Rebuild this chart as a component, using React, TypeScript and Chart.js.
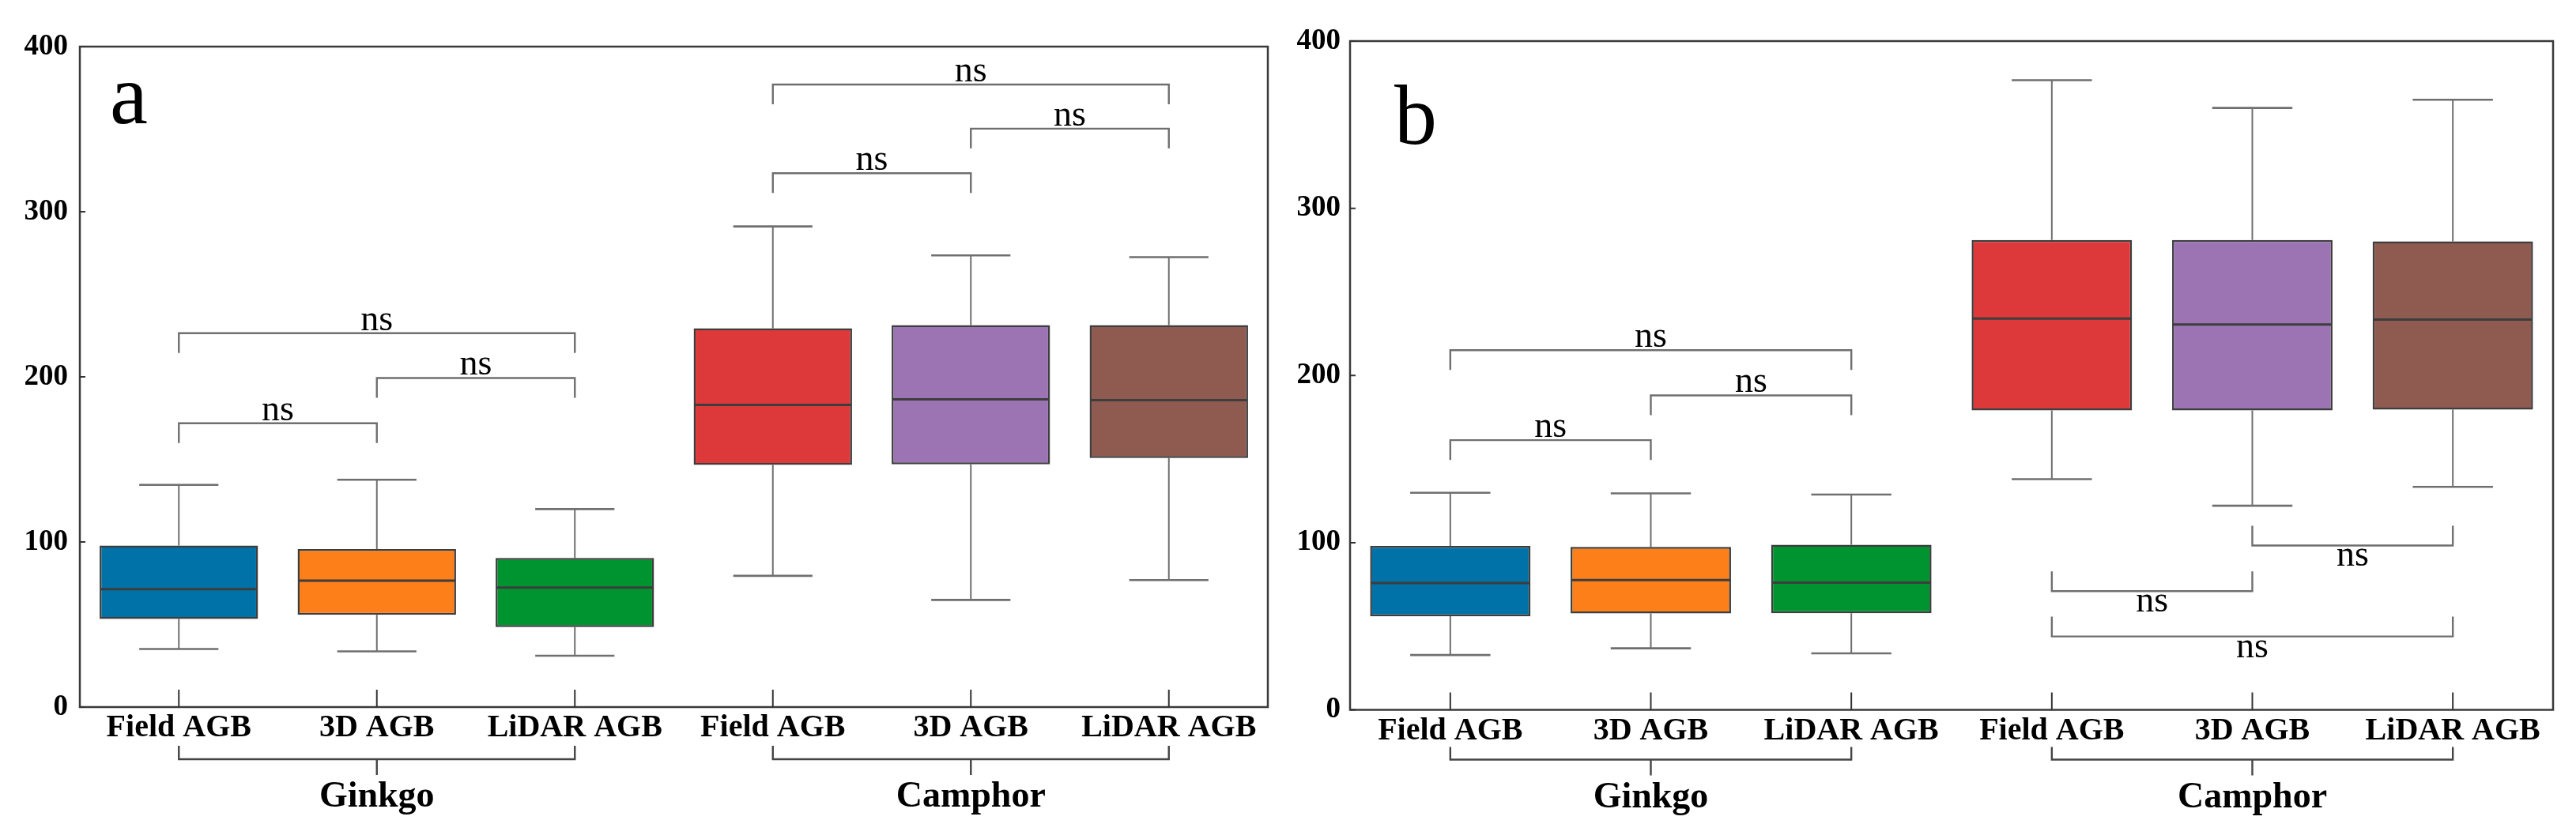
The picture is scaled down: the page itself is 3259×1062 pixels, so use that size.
import React, { useEffect, useRef } from "react";
import { Chart, registerables } from "chart.js";

Chart.register(...registerables);

// ---------- data ----------
const categories = ["Field AGB", "3D AGB", "LiDAR AGB", "Field AGB", "3D AGB", "LiDAR AGB"];
const groups = ["Ginkgo", "Camphor"];
const yTicks = [0, 100, 200, 300, 400];
const boxColors = ["#0072A7", "#FD7F19", "#009430", "#DE393A", "#9C74B4", "#8F5B51"];

// panel a
const aLow = [35.2, 33.7, 31.1, 79.5, 64.9, 76.9];
const aQ1 = [53.4, 55.9, 48.4, 146.7, 147.0, 150.8];
const aMedian = [71.4, 76.5, 72.4, 183.0, 186.4, 185.9];
const aQ3 = [97.8, 95.7, 90.3, 229.4, 231.3, 231.3];
const aHigh = [134.6, 137.7, 119.9, 291.1, 273.6, 272.5];
const aBracketFrom = [0, 1, 0, 3, 4, 3];
const aBracketTo = [1, 2, 2, 4, 5, 5];
const aBracketY = [171.9, 199.3, 226.4, 323.3, 350.3, 377.0];
const aBracketDir = ["up", "up", "up", "up", "up", "up"];
const aBracketText = ["ns", "ns", "ns", "ns", "ns", "ns"];

// panel b
const bLow = [32.8, 36.8, 33.8, 138.0, 122.1, 133.4];
const bQ1 = [56.0, 57.6, 57.8, 179.1, 179.1, 179.6];
const bMedian = [75.9, 77.6, 76.1, 234.0, 230.5, 233.4];
const bQ3 = [98.1, 97.5, 98.8, 281.0, 281.0, 280.2];
const bHigh = [129.8, 129.5, 128.8, 376.6, 360.0, 364.9];
const bBracketFrom = [0, 1, 0, 4, 3, 3];
const bBracketTo = [1, 2, 2, 5, 4, 5];
const bBracketY = [161.3, 188.1, 215.1, 98.3, 71.0, 43.9];
const bBracketDir = ["up", "up", "up", "down", "down", "down"];
const bBracketText = ["ns", "ns", "ns", "ns", "ns", "ns"];

const SERIF = "'Liberation Serif', 'Times New Roman', serif";

type Panel = {
  letter: string;
  low: number[];
  q1: number[];
  median: number[];
  q3: number[];
  high: number[];
  bFrom: number[];
  bTo: number[];
  bY: number[];
  bDir: string[];
  bText: string[];
  canvasW: number;
  left: number;
  yAxisW: number;
  xAxisH: number;
  padTop: number;
  padRight: number;
  tickPad: number;
  letterDX: number;
  letterDY: number;
  grp: number[]; // leg top, horizontal, stem end, text baseline offsets from bottom
};

const panels: Panel[] = [
  {
    letter: "a",
    low: aLow, q1: aQ1, median: aMedian, q3: aQ3, high: aHigh,
    bFrom: aBracketFrom, bTo: aBracketTo, bY: aBracketY, bDir: aBracketDir, bText: aBracketText,
    canvasW: 1620, left: 0, yAxisW: 101, xAxisH: 167, padTop: 59, padRight: 16, tickPad: 15,
    letterDX: 38, letterDY: 97,
    grp: [49, 66, 86, 126],
  },
  {
    letter: "b",
    low: bLow, q1: bQ1, median: bMedian, q3: bQ3, high: bHigh,
    bFrom: bBracketFrom, bTo: bBracketTo, bY: bBracketY, bDir: bBracketDir, bText: bBracketText,
    canvasW: 1639, left: 1620, yAxisW: 88, xAxisH: 163.5, padTop: 52, padRight: 29, tickPad: 12,
    letterDX: 56, letterDY: 130,
    grp: [47, 63, 83, 123],
  },
];

function makePlugin(p: Panel) {
  return {
    id: "decor" + p.letter,
    beforeDatasetsDraw(chart: any) {
      const ctx = chart.ctx;
      const y = chart.scales.y;
      const meta = chart.getDatasetMeta(0);
      ctx.save();
      ctx.strokeStyle = "#6f6f6f";
      ctx.lineWidth = 2;
      meta.data.forEach((bar: any, i: number) => {
        const { x: cx, width: w } = bar.getProps(["x", "width"], true);
        const capHalf = w / 4;
        const yHi = y.getPixelForValue(p.high[i]);
        const yLo = y.getPixelForValue(p.low[i]);
        const yQ3 = y.getPixelForValue(p.q3[i]);
        const yQ1 = y.getPixelForValue(p.q1[i]);
        ctx.beginPath();
        ctx.moveTo(cx, yQ3);
        ctx.lineTo(cx, yHi);
        ctx.moveTo(cx, yQ1);
        ctx.lineTo(cx, yLo);
        ctx.stroke();
        ctx.lineWidth = 2.6;
        ctx.beginPath();
        ctx.moveTo(cx - capHalf, yHi);
        ctx.lineTo(cx + capHalf, yHi);
        ctx.moveTo(cx - capHalf, yLo);
        ctx.lineTo(cx + capHalf, yLo);
        ctx.stroke();
        ctx.lineWidth = 2;
      });
      ctx.restore();
    },
    afterDatasetsDraw(chart: any) {
      const ctx = chart.ctx;
      const y = chart.scales.y;
      const meta = chart.getDatasetMeta(0);
      ctx.save();
      ctx.strokeStyle = "#3d3d3d";
      ctx.lineWidth = 3;
      meta.data.forEach((bar: any, i: number) => {
        const { x: cx, width: w } = bar.getProps(["x", "width"], true);
        const ym = y.getPixelForValue(p.median[i]);
        ctx.beginPath();
        ctx.moveTo(cx - w / 2 + 1, ym);
        ctx.lineTo(cx + w / 2 - 1, ym);
        ctx.stroke();
      });
      ctx.restore();
    },
    afterDraw(chart: any) {
      const ctx = chart.ctx;
      const a = chart.chartArea;
      const xs = chart.scales.x;
      const ys = chart.scales.y;
      ctx.save();
      // frame
      ctx.strokeStyle = "#3a3a3a";
      ctx.lineWidth = 2.5;
      ctx.strokeRect(a.left, a.top, a.right - a.left, a.bottom - a.top);
      // x ticks (inward)
      ctx.lineWidth = 2;
      ctx.strokeStyle = "#333";
      ctx.beginPath();
      categories.forEach((_c, i) => {
        const px = xs.getPixelForValue(i);
        ctx.moveTo(px, a.bottom);
        ctx.lineTo(px, a.bottom - 22);
      });
      // y ticks (inward)
      yTicks.forEach((v) => {
        const py = ys.getPixelForValue(v);
        ctx.moveTo(a.left, py);
        ctx.lineTo(a.left + 7, py);
      });
      ctx.stroke();

      // significance brackets
      ctx.strokeStyle = "#6f6f6f";
      ctx.lineWidth = 2.4;
      ctx.fillStyle = "#000";
      ctx.font = `46px ${SERIF}`;
      ctx.textAlign = "center";
      p.bY.forEach((val, k) => {
        const x1 = xs.getPixelForValue(p.bFrom[k]);
        const x2 = xs.getPixelForValue(p.bTo[k]);
        const yl = ys.getPixelForValue(val);
        const up = p.bDir[k] === "up";
        const leg = up ? 25 : -25;
        ctx.beginPath();
        ctx.moveTo(x1, yl + leg);
        ctx.lineTo(x1, yl);
        ctx.lineTo(x2, yl);
        ctx.lineTo(x2, yl + leg);
        ctx.stroke();
        ctx.textBaseline = "alphabetic";
        const ty = up ? yl - 4 : yl + 26;
        ctx.fillText(p.bText[k], (x1 + x2) / 2, ty);
      });

      // group brackets under x labels
      ctx.strokeStyle = "#444";
      ctx.lineWidth = 2.4;
      ctx.font = `bold 46px ${SERIF}`;
      groups.forEach((g, gi) => {
        const x1 = xs.getPixelForValue(gi * 3);
        const xc = xs.getPixelForValue(gi * 3 + 1);
        const x2 = xs.getPixelForValue(gi * 3 + 2);
        const [t0, t1, t2, t3] = p.grp;
        ctx.beginPath();
        ctx.moveTo(x1, a.bottom + t0);
        ctx.lineTo(x1, a.bottom + t1);
        ctx.lineTo(x2, a.bottom + t1);
        ctx.lineTo(x2, a.bottom + t0);
        ctx.moveTo(xc, a.bottom + t1);
        ctx.lineTo(xc, a.bottom + t2);
        ctx.stroke();
        ctx.textBaseline = "alphabetic";
        ctx.fillText(g, xc, a.bottom + t3);
      });

      // panel letter
      ctx.font = `108px ${SERIF}`;
      ctx.textAlign = "left";
      ctx.fillText(p.letter, a.left + p.letterDX, a.top + p.letterDY);
      ctx.restore();
    },
  };
}

function PanelChart({ p }: { p: Panel }) {
  const ref = useRef<HTMLCanvasElement | null>(null);
  useEffect(() => {
    if (!ref.current) return;
    const chart = new Chart(ref.current, {
      type: "bar",
      data: {
        labels: categories,
        datasets: [
          {
            data: p.q1.map((v, i) => [v, p.q3[i]]) as any,
            backgroundColor: boxColors,
            borderColor: "#3d3d3d",
            borderWidth: 2.5,
            borderSkipped: false,
            categoryPercentage: 0.8,
            barPercentage: 1,
          },
        ],
      },
      options: {
        animation: false,
        responsive: false,
        devicePixelRatio: 1,
        layout: { padding: { left: 0, right: p.padRight, top: p.padTop, bottom: 0 } },
        plugins: { legend: { display: false }, tooltip: { enabled: false } },
        scales: {
          x: {
            type: "category",
            offset: true,
            grid: { display: false, drawTicks: false },
            border: { display: false },
            ticks: {
              color: "#000",
              font: { family: SERIF, size: 40, weight: "bold" },
              padding: 3,
              maxRotation: 0,
              minRotation: 0,
              autoSkip: false,
            },
            afterFit: (s: any) => {
              s.height = p.xAxisH;
            },
          },
          y: {
            min: 0,
            max: 400,
            grid: { display: false, drawTicks: false },
            border: { display: false },
            ticks: {
              stepSize: 100,
              color: "#000",
              font: { family: SERIF, size: 37, weight: "bold" },
              padding: p.tickPad,
            },
            afterBuildTicks: (s: any) => {
              s.ticks = yTicks.map((v) => ({ value: v }));
            },
            afterFit: (s: any) => {
              s.width = p.yAxisW;
            },
          },
        },
      },
      plugins: [makePlugin(p)],
    });
    return () => chart.destroy();
  }, [p]);
  return (
    <canvas
      ref={ref}
      width={p.canvasW}
      height={1062}
      style={{ position: "absolute", left: p.left, top: 0, width: p.canvasW, height: 1062, display: "block" }}
    />
  );
}

export default function App() {
  return (
    <div style={{ position: "absolute", left: 0, top: 0, width: 3259, height: 1062, background: "#fff", overflow: "hidden" }}>
      {panels.map((p) => (
        <PanelChart key={p.letter} p={p} />
      ))}
    </div>
  );
}
